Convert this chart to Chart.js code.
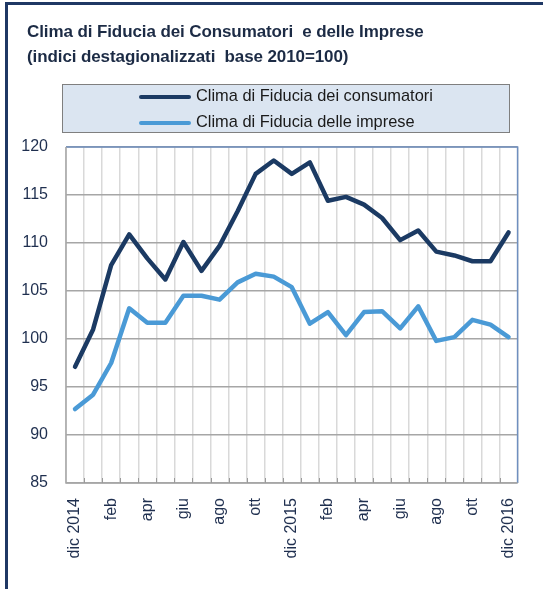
<!DOCTYPE html>
<html>
<head>
<meta charset="utf-8">
<script src="https://cdn.jsdelivr.net/npm/chart.js@4"></script>
<style>
  html, body { margin: 0; padding: 0; background: #fff; }
  #wrap { position: relative; width: 543px; height: 589px; overflow: hidden; font-family: "Liberation Sans", Arial, sans-serif; }
  #frame { position: absolute; left: 5px; top: 2px; width: 560px; height: 620px; border-left: 3px solid #1f3864; border-top: 3px solid #1f3864; }
  #titolo { position: absolute; left: 27px; top: 19px; font-weight: bold; font-size: 17px; line-height: 25px; color: #1c2b45; white-space: pre; letter-spacing: -0.1px; }
  #legenda { position: absolute; left: 62px; top: 84px; width: 446px; height: 47px; background: #dbe5f1; border: 1px solid #7f7f7f; }
  .voce { position: absolute; left: 76px; height: 22px; font-size: 16.4px; color: #1a1a1a; white-space: nowrap; }
  .voce span.linea { display: inline-block; width: 52px; height: 4px; border-radius: 2px; vertical-align: middle; margin-right: 5px; }
  canvas { position: absolute; left: 0; top: 0; }
</style>
</head>
<body>
<div id="wrap">
  <div id="frame"></div>
  <canvas id="myChart" width="543" height="589"></canvas>
  <div id="titolo">Clima di Fiducia dei Consumatori  e delle Imprese
(indici destagionalizzati  base 2010=100)</div>
  <div id="legenda"></div>
</div>
<script>
// Dati (dic 2014 - dic 2016)
const mesi = ['dic 2014', 'gen', 'feb', 'mar', 'apr', 'mag', 'giu', 'lug', 'ago', 'set', 'ott', 'nov',
  'dic 2015', 'gen', 'feb', 'mar', 'apr', 'mag', 'giu', 'lug', 'ago', 'set', 'ott', 'nov', 'dic 2016'];

const consumatori = [97.1, 101.0, 107.7, 110.9, 108.4, 106.2, 110.1, 107.1, 109.7, 113.3, 117.2, 118.6,
  117.2, 118.4, 114.4, 114.8, 114.0, 112.6, 110.3, 111.3, 109.1, 108.7, 108.1, 108.1, 111.1];

const imprese = [92.7, 94.2, 97.5, 103.2, 101.7, 101.7, 104.5, 104.5, 104.1, 105.9, 106.8, 106.5,
  105.4, 101.6, 102.8, 100.4, 102.8, 102.9, 101.1, 103.4, 99.8, 100.2, 102.0, 101.5, 100.2];

const serie = [
  { nome: 'Clima di Fiducia dei consumatori', valori: consumatori, colore: '#1b3a63' },
  { nome: 'Clima di Fiducia delle imprese', valori: imprese, colore: '#4a9ad6' },
];

const yMin = 85;
const yMax = 120;
const yPasso = 5;

// Legenda html
const legenda = document.getElementById('legenda');
serie.forEach((s, i) => {
  const voce = document.createElement('div');
  voce.className = 'voce';
  voce.style.top = (i === 0 ? 1 : 27) + 'px';
  voce.innerHTML = '<span class="linea" style="background:' + s.colore + '"></span>' + s.nome;
  legenda.appendChild(voce);
});

// bordi dell'area del grafico e tacche in basso
const bordoArea = {
  id: 'bordoArea',
  afterDraw(chart) {
    const { ctx, chartArea: a, scales } = chart;
    ctx.save();
    ctx.strokeStyle = '#6f8fbf';
    ctx.lineWidth = 1.5;
    ctx.beginPath();
    ctx.moveTo(a.left, a.top);
    ctx.lineTo(a.right, a.top);
    ctx.lineTo(a.right, a.bottom);
    ctx.stroke();
    ctx.strokeStyle = '#a6a6a6';
    ctx.beginPath();
    ctx.moveTo(a.left, a.top);
    ctx.lineTo(a.left, a.bottom);
    ctx.lineTo(a.right, a.bottom);
    ctx.stroke();
    // tacche
    const x = scales.x;
    const passo = x.getPixelForTick(1) - x.getPixelForTick(0);
    ctx.strokeStyle = '#9a9a9a';
    ctx.lineWidth = 1;
    for (let i = 1; i < mesi.length; i++) {
      const px = Math.round(x.getPixelForTick(i) - passo / 2) + 0.5;
      ctx.beginPath();
      ctx.moveTo(px, a.bottom);
      ctx.lineTo(px, a.bottom - 5);
      ctx.stroke();
    }
    ctx.restore();
  }
};

const chart = document.getElementById('myChart');
const myChart = new Chart(chart, {
  type: 'line',
  data: {
    labels: mesi,
    datasets: serie.map(s => ({
      label: s.nome,
      data: s.valori,
      borderColor: s.colore,
      backgroundColor: s.colore,
      borderWidth: 4.5,
      pointRadius: 0,
      tension: 0,
      borderJoinStyle: 'round',
      borderCapStyle: 'round',
    })),
  },
  options: {
    responsive: false,
    animation: false,
    devicePixelRatio: 1,
    layout: { padding: { top: 147, right: 13, left: 0, bottom: 0 } },
    plugins: {
      legend: { display: false },
      tooltip: { enabled: false },
    },
    scales: {
      x: {
        offset: true,
        grid: { offset: true, color: '#d9d9d9', lineWidth: 1.5, drawTicks: false },
        border: { display: false },
        ticks: {
          autoSkip: false,
          minRotation: 90,
          maxRotation: 90,
          padding: 15,
          color: '#1f2f4f',
          font: { family: 'Liberation Sans', size: 16 },
          callback: (v, i) => (i % 2 === 0 ? mesi[i] : ''),
        },
        afterFit: scale => { scale.height = 106; },
      },
      y: {
        min: yMin,
        max: yMax,
        grid: { color: '#a6a6a6', lineWidth: 1.5, drawTicks: false },
        border: { display: false },
        ticks: {
          stepSize: yPasso,
          padding: 18,
          color: '#1f2f4f',
          font: { family: 'Liberation Sans', size: 16 },
        },
        afterFit: scale => { scale.width = 66; },
      },
    },
  },
  plugins: [bordoArea],
});
</script>
</body>
</html>
